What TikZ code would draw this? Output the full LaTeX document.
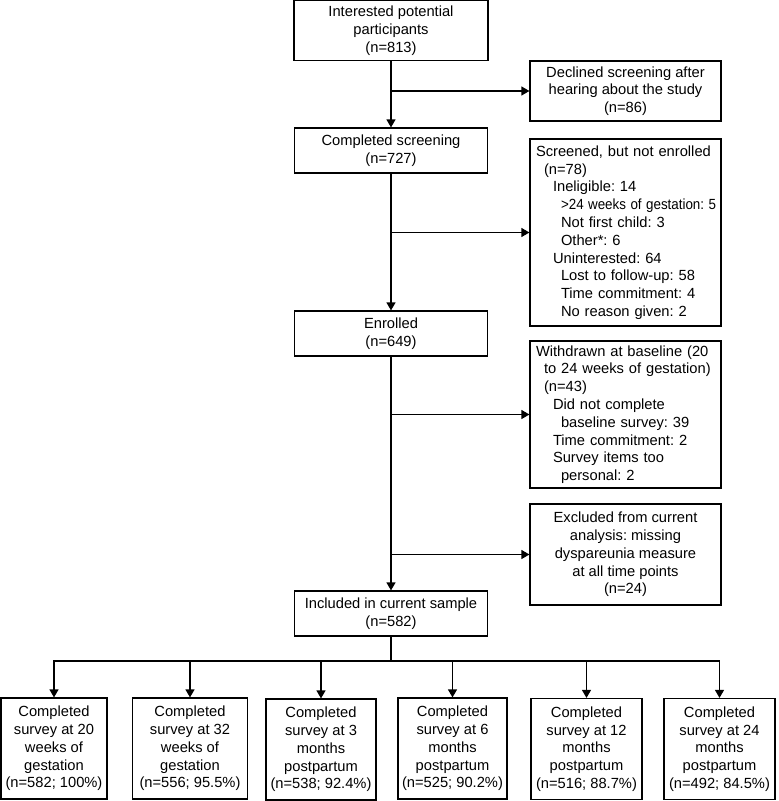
\documentclass[tikz,border=0pt]{standalone}
\usepackage{fontspec}
\usepackage{graphicx}
\setmainfont{Liberation Sans}
\usetikzlibrary{arrows.meta}
\frenchspacing
\begin{document}
\begin{tikzpicture}[x=1bp,y=-1bp,
  box/.style={draw, line width=1.2bp, inner sep=0pt, align=center,
    font=\fontsize{14.7bp}{17.8bp}\selectfont\frenchspacing},
  lbox/.style={box, align=left, inner xsep=6bp, text width=179bp},
  conn/.style={line width=1.2bp, line cap=rect},
  arr/.style={conn, -{Triangle[width=9bp,length=8bp]}}]
\useasboundingbox (0,0) rectangle (779,801);
% main column
\node[box, minimum width=194bp, minimum height=60bp] (top) at (391,30.5)
  {Interested potential\\participants\\(n=813)};
\node[box, minimum width=193bp, minimum height=45bp] (comp) at (391,150.5)
  {Completed screening\\(n=727)};
\node[box, minimum width=193bp, minimum height=45bp] (enr) at (391,333.5)
  {Enrolled\\(n=649)};
\node[box, minimum width=193bp, minimum height=45bp] (inc) at (391,613.5)
  {Included in current sample\\(n=582)};
% side boxes
\node[box, minimum width=191bp, minimum height=60bp] (decl) at (625.5,91)
  {Declined screening after\\hearing about the study\\(n=86)};
\node[lbox, minimum height=187bp] (scr) at (625.5,232.5)
  {Screened, but not enrolled\\
   \hspace*{8bp}(n=78)\\
   \hspace*{17bp}Ineligible: 14\\
   \hspace*{25bp}\scalebox{0.91}[1]{>24 weeks of gestation: 5}\\
   \hspace*{25bp}Not first child: 3\\
   \hspace*{25bp}Other*: 6\\
   \hspace*{17bp}Uninterested: 64\\
   \hspace*{25bp}Lost to follow-up: 58\\
   \hspace*{25bp}Time commitment: 4\\
   \hspace*{25bp}No reason given: 2};
\node[lbox, minimum height=147bp] (wd) at (625.5,414.5)
  {Withdrawn at baseline (20\\
   \hspace*{8bp}to 24 weeks of gestation)\\
   \hspace*{8bp}(n=43)\\
   \hspace*{17bp}Did not complete\\
   \hspace*{25bp}baseline survey: 39\\
   \hspace*{17bp}Time commitment: 2\\
   \hspace*{17bp}Survey items too\\
   \hspace*{25bp}personal: 2};
\node[box, minimum width=191bp, minimum height=101bp] (exc) at (625.5,554.5)
  {Excluded from current\\analysis: missing\\dyspareunia measure\\at all time points\\(n=24)};
% bottom boxes
\node[box, minimum width=106bp, minimum height=101bp] (b1) at (54,748.5)
  {Completed\\survey at 20\\weeks of\\gestation\\(n=582; 100\%)};
\node[box, minimum width=115bp, minimum height=101bp] (b2) at (190,748.5)
  {Completed\\survey at 32\\weeks of\\gestation\\(n=556; 95.5\%)};
\node[box, minimum width=110bp, minimum height=101bp] (b3) at (321,749.5)
  {Completed\\survey at 3\\months\\postpartum\\(n=538; 92.4\%)};
\node[box, minimum width=109bp, minimum height=101bp] (b4) at (452.5,748.5)
  {Completed\\survey at 6\\months\\postpartum\\(n=525; 90.2\%)};
\node[box, minimum width=111bp, minimum height=101bp] (b5) at (586.5,749)
  {Completed\\survey at 12\\months\\postpartum\\(n=516; 88.7\%)};
\node[box, minimum width=111bp, minimum height=101bp] (b6) at (719.5,749)
  {Completed\\survey at 24\\months\\postpartum\\(n=492; 84.5\%)};
% connectors
\draw[arr] (top.south) -- (comp.north);
\draw[arr] (top.south |- decl.west) -- (decl.west);
\draw[arr] (comp.south) -- (enr.north);
\draw[arr] (comp.south |- scr.west) -- (scr.west);
\draw[arr] (enr.south) -- (inc.north);
\draw[arr] (enr.south |- wd.west) -- (wd.west);
\draw[arr] (enr.south |- exc.west) -- (exc.west);
\coordinate (bus) at (391,661);
\draw[conn] (inc.south) -- (bus);
\draw[conn] (b1.north |- bus) -- (b6.north |- bus);
\foreach \b in {b1,b2,b3,b4,b5,b6}
  \draw[arr] (\b.north |- bus) -- (\b.north);
\end{tikzpicture}
\end{document}
